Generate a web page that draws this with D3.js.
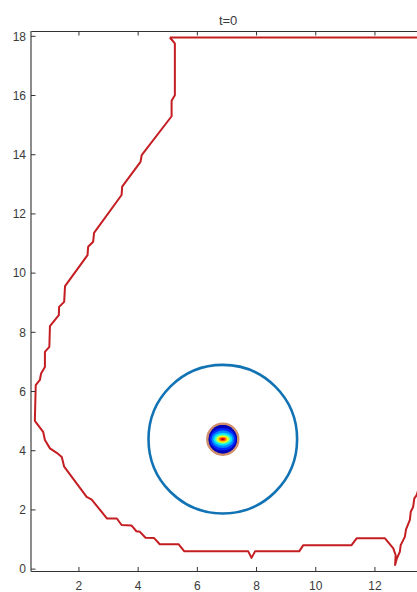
<!DOCTYPE html>
<html>
<head>
<meta charset="utf-8">
<script src="https://cdn.jsdelivr.net/npm/d3@7"></script>
<style>
  html, body { margin: 0; padding: 0; background: #fff; overflow: hidden; }
  svg { display: block; }
  text { font-family: "Liberation Sans", Arial, sans-serif; fill: #3a3a3a; }
</style>
</head>
<body>
<svg id="chart" width="417" height="592"></svg>
<script>
// Domain boundary (closed polygon), in model units
const boundaryX = [5.07, 5.24, 5.24, 5.13, 5.13, 4.12, 4.08, 3.46, 3.44, 2.51, 2.48, 2.31, 2.29,
  1.53, 1.50, 1.33, 1.32, 1.02, 1.00, 0.85, 0.85, 0.72, 0.68, 0.54, 0.51, 0.79, 0.85, 1.02,
  1.25, 1.42, 1.50, 2.26, 2.43, 2.95, 3.28, 3.44, 3.78, 3.94, 4.06, 4.25, 4.54, 4.73, 5.37,
  5.56, 7.72, 7.83, 7.95, 9.44, 9.58, 11.21, 11.38, 12.34, 12.62, 12.70, 12.68, 12.74, 12.84,
  12.87, 13.01, 13.05, 13.18, 13.21, 13.29, 13.33, 13.41, 13.50, 13.50, 5.07];
const boundaryY = [17.96, 17.76, 16.01, 15.82, 15.30, 13.99, 13.76, 12.92, 12.64, 11.36, 11.06,
  10.89, 10.61, 9.56, 9.03, 8.86, 8.58, 8.21, 7.51, 7.34, 6.83, 6.61, 6.39, 6.22, 5.01, 4.64,
  4.36, 4.08, 3.93, 3.79, 3.46, 2.44, 2.35, 1.71, 1.71, 1.49, 1.47, 1.28, 1.26, 1.06, 1.05,
  0.84, 0.84, 0.60, 0.60, 0.38, 0.60, 0.60, 0.81, 0.81, 1.04, 1.04, 0.70, 0.47, 0.14, 0.36,
  0.58, 0.81, 1.09, 1.34, 1.66, 1.94, 2.10, 2.39, 2.50, 2.80, 17.96, 17.96];

// Reference circle around the source
const ringCenter = [6.86, 4.39];
const ringRadius = 2.51;

// Initial concentration blob: filled contour levels (outer to inner)
const blobCenter = [6.86, 4.39];
const blobRx = [0.48, 0.44, 0.38, 0.32, 0.26, 0.20, 0.14, 0.09, 0.04];
const blobRy = [0.48, 0.38, 0.30, 0.22, 0.16, 0.12, 0.08, 0.05, 0.025];
const blobColors = ["#0000b8", "#0028ff", "#0088ff", "#00e4ff", "#70ffa0", "#ffff00",
  "#ff9000", "#ff1a00", "#9a0000"];
const blobEdgeRadius = 0.52;

// Axis settings
const xTicks = [2, 4, 6, 8, 10, 12];
const yTicks = [0, 2, 4, 6, 8, 10, 12, 14, 16, 18];
const xDomain = [0.38, 13.7];
const yDomain = [-0.08, 18.18];
const titleText = "t=0";

const svg = d3.select("#chart");
const padLeft = 31, padTop = 31, unit = 29.6;
const x = d3.scaleLinear().domain(xDomain).range([padLeft, padLeft + (xDomain[1] - xDomain[0]) * unit]);
const y = d3.scaleLinear().domain(yDomain).range([padTop + (yDomain[1] - yDomain[0]) * unit, padTop]);
const [x0, x1] = x.range();
const [y0, y1] = [y.range()[1], y.range()[0]];

const plot = svg.append("g");

// Boundary
const line = d3.line().x((d, i) => x(boundaryX[i])).y((d, i) => y(boundaryY[i]));
plot.append("path")
  .attr("d", line(boundaryX))
  .attr("fill", "none")
  .attr("stroke", "#c41e22")
  .attr("stroke-width", 2)
  .attr("stroke-linejoin", "round");

// Circle
plot.append("ellipse")
  .attr("cx", x(ringCenter[0])).attr("cy", y(ringCenter[1]))
  .attr("rx", x(ringCenter[0] + ringRadius) - x(ringCenter[0]))
  .attr("ry", y(ringCenter[1]) - y(ringCenter[1] + ringRadius))
  .attr("fill", "none")
  .attr("stroke", "#1273b4")
  .attr("stroke-width", 2.6);

// Blob
const blob = plot.append("g");
blob.append("circle")
  .attr("cx", x(blobCenter[0])).attr("cy", y(blobCenter[1]))
  .attr("r", x(blobCenter[0] + blobEdgeRadius) - x(blobCenter[0]))
  .attr("fill", "#0000a8")
  .attr("stroke", "#cf8f6c")
  .attr("stroke-width", 2.6);
blob.selectAll("ellipse.lvl")
  .data(blobColors)
  .join("ellipse")
  .attr("class", "lvl")
  .attr("cx", x(blobCenter[0])).attr("cy", y(blobCenter[1]))
  .attr("rx", (d, i) => x(blobCenter[0] + blobRx[i]) - x(blobCenter[0]))
  .attr("ry", (d, i) => y(blobCenter[1]) - y(blobCenter[1] + blobRy[i]))
  .attr("fill", d => d);

// Axes box
const axisG = svg.append("g");
axisG.append("line").attr("x1", x0).attr("x2", x1).attr("y1", y0 + 0.5).attr("y2", y0 + 0.5)
  .attr("stroke", "#333").attr("stroke-width", 1);
axisG.append("line").attr("x1", x0).attr("x2", x1).attr("y1", y1).attr("y2", y1)
  .attr("stroke", "#333").attr("stroke-width", 1.2);
axisG.append("line").attr("x1", x0).attr("x2", x0).attr("y1", y0).attr("y2", y1)
  .attr("stroke", "#707070").attr("stroke-width", 1.6);
axisG.append("line").attr("x1", x1).attr("x2", x1).attr("y1", y0).attr("y2", y1)
  .attr("stroke", "#333").attr("stroke-width", 1);

const tl = 4.5;
// x ticks: inward on bottom and top
axisG.selectAll("line.xb").data(xTicks).join("line").attr("class", "xb")
  .attr("x1", d => x(d)).attr("x2", d => x(d)).attr("y1", y1).attr("y2", y1 - tl)
  .attr("stroke", "#333");
axisG.selectAll("line.xt").data(xTicks).join("line").attr("class", "xt")
  .attr("x1", d => x(d)).attr("x2", d => x(d)).attr("y1", y0).attr("y2", y0 + tl)
  .attr("stroke", "#333");
axisG.selectAll("line.yl").data(yTicks).join("line").attr("class", "yl")
  .attr("x1", x0).attr("x2", x0 + tl).attr("y1", d => y(d)).attr("y2", d => y(d))
  .attr("stroke", "#333");
axisG.selectAll("line.yr").data(yTicks).join("line").attr("class", "yr")
  .attr("x1", x1).attr("x2", x1 - tl).attr("y1", d => y(d)).attr("y2", d => y(d))
  .attr("stroke", "#333");

// Tick labels
axisG.selectAll("text.xl").data(xTicks).join("text").attr("class", "xl")
  .attr("x", d => x(d)).attr("y", y1 + 18.5)
  .attr("text-anchor", "middle").attr("font-size", 12)
  .text(d => d);
axisG.selectAll("text.yl").data(yTicks).join("text").attr("class", "yl")
  .attr("x", x0 - 5).attr("y", d => y(d) + 4.2)
  .attr("text-anchor", "end").attr("font-size", 12)
  .text(d => d);

// Title
svg.append("text")
  .attr("x", (x0 + x1) / 2).attr("y", y0 - 6.5)
  .attr("text-anchor", "middle").attr("font-size", 13)
  .attr("fill", "#222")
  .text(titleText);
</script>
</body>
</html>
